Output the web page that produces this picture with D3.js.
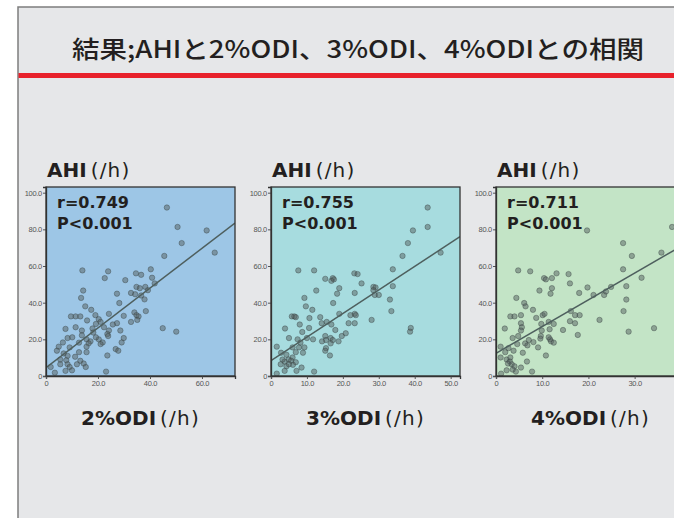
<!DOCTYPE html>
<html>
<head>
<meta charset="utf-8">
<script src="https://cdn.jsdelivr.net/npm/d3@7"></script>
<style>
  html, body { margin: 0; padding: 0; background: #fff; }
</style>
</head>
<body>
<div id="chart"></div>
<script>
// Title and labels
const titleText = "結果;AHIと2%ODI、3%ODI、4%ODIとの相関";
const xLabels = ["2%ODI", "3%ODI", "4%ODI"];
const rLabels = ["r=0.749", "r=0.755", "r=0.711"];
const pLabel = "P<0.001";

// Tick labels
const yTicks = [0, 20, 40, 60, 80, 100];
const xTicks2 = [0, 20, 40, 60];
const xTicks3 = [0, 10, 20, 30, 40, 50];
const xTicks4 = [0, 10, 20, 30, 40];

// Regression lines (intercept, slope)
const fitIntercepts = [4.5, 8.4, 12.4];
const fitSlopes = [1.086, 1.285, 1.458];

// 2%ODI vs AHI
const odi2X = [46.5, 50.6, 61.8, 52.2, 45.5, 64.9, 14.0, 22.6, 23.9, 40.3, 36.6, 34.6, 30.5, 40.8, 41.8, 38.2, 34.8, 36.1, 39.2, 14.3,
  32.7, 27.3, 34.3, 36.6, 13.5, 37.9, 28.2, 15.1, 17.4, 38.4, 34.0, 24.2, 19.0, 29.9, 34.8, 35.6, 9.6, 11.4, 13.2, 20.3,
  21.0, 15.8, 32.7, 35.1, 27.3, 25.7, 19.2, 11.4, 7.5, 17.9, 13.8, 28.6, 24.2, 23.6, 44.9, 50.1, 13.8, 10.1, 8.3, 23.9,
  20.3, 15.6, 17.1, 16.4, 21.8, 29.9, 29.1, 6.5, 15.6, 4.9, 9.1, 26.8, 27.8, 4.2, 12.7, 15.6, 6.8, 8.3, 11.2, 23.6,
  13.2, 14.5, 7.8, 5.5, 8.3, 9.1, 10.0, 7.5, 3.4, 23.1, 11.9, 15.3, 1.8, 5.5, 19.2, 21.0, 12.7, 18.2, 22.3];
const odi2Y = [91.9, 81.3, 79.4, 72.5, 65.5, 67.3, 57.6, 53.4, 57.1, 58.2, 55.2, 56.0, 52.3, 53.6, 50.5, 48.6, 48.6, 47.9, 46.8, 46.6,
  45.3, 44.9, 44.6, 43.9, 42.6, 41.8, 39.8, 38.0, 36.1, 35.4, 34.7, 33.9, 33.2, 32.8, 33.2, 32.5, 32.5, 32.5, 32.5, 31.0,
  29.5, 30.3, 29.5, 30.6, 28.8, 28.1, 28.4, 26.6, 25.7, 25.9, 24.8, 24.8, 24.8, 22.9, 26.1, 24.2, 22.2, 21.1, 20.7, 21.8,
  20.0, 20.0, 18.9, 17.8, 18.3, 20.7, 18.3, 18.3, 16.0, 16.0, 15.6, 14.7, 13.8, 13.8, 13.0, 13.0, 12.3, 11.0, 10.5, 11.2,
  8.3, 6.8, 8.6, 6.4, 6.4, 4.9, 3.1, 2.8, 1.8, 2.4, 6.4, 4.9, 4.9, 9.0, 21.1, 17.4, 18.2, 23.7, 26.6];

// 3%ODI vs AHI
const odi3X = [43.6, 43.6, 39.5, 38.1, 47.2, 36.6, 7.6, 12.0, 33.9, 23.2, 24.1, 17.2, 17.5, 15.1, 16.8, 25.2, 33.9, 19.0, 28.5, 29.1,
  28.5, 12.6, 18.4, 23.3, 28.9, 30.0, 9.3, 33.1, 17.3, 9.7, 11.5, 33.5, 23.3, 19.0, 23.6, 22.1, 5.8, 6.5, 6.9, 13.7,
  10.7, 15.5, 14.1, 23.3, 21.6, 28.0, 8.0, 16.8, 10.6, 3.9, 38.9, 38.7, 17.9, 8.7, 20.8, 19.7, 15.1, 16.6, 5.0, 7.4,
  11.7, 15.3, 14.2, 17.2, 16.6, 8.2, 18.8, 7.8, 1.6, 15.3, 15.1, 6.9, 8.9, 2.8, 4.3, 16.4, 6.0, 4.9, 3.8, 5.6,
  6.9, 2.7, 6.1, 4.3, 8.5, 3.8, 7.1, 12.0, 1.6, 5.0, 3.2, 9.3, 10.0, 6.0];
const odi3Y = [91.9, 81.3, 79.4, 72.5, 67.3, 65.5, 57.6, 57.6, 58.2, 56.0, 55.6, 53.4, 52.7, 53.0, 51.9, 50.5, 49.0, 47.9, 48.6, 48.3,
  46.8, 46.6, 44.9, 45.3, 44.2, 44.2, 42.6, 41.7, 39.8, 38.0, 36.1, 35.4, 33.9, 33.9, 33.2, 33.2, 32.5, 32.5, 32.1, 32.1,
  31.6, 29.5, 28.8, 28.8, 28.8, 30.6, 28.1, 28.1, 26.2, 25.9, 26.2, 24.2, 25.1, 24.0, 23.3, 21.8, 21.8, 20.7, 20.7, 20.0,
  20.0, 19.6, 18.9, 19.6, 17.8, 18.2, 18.9, 15.6, 16.0, 15.2, 13.8, 13.0, 12.7, 12.7, 11.6, 11.2, 10.1, 9.0, 7.9, 8.3,
  7.5, 6.4, 6.1, 5.3, 4.6, 2.8, 2.8, 2.4, 1.3, 6.4, 9.0, 15.6, 20.7, 15.6];

// 4%ODI vs AHI
const odi4X = [19.7, 38.1, 27.5, 35.8, 29.4, 4.8, 7.4, 13.1, 15.7, 10.4, 10.8, 12.1, 27.5, 16.0, 31.5, 24.9, 28.2, 19.8, 12.1, 9.4,
  18.0, 21.1, 23.4, 11.8, 23.8, 28.2, 4.4, 6.1, 6.4, 8.0, 27.6, 16.2, 3.1, 4.0, 5.4, 10.1, 10.5, 18.1, 17.1, 8.7,
  5.4, 11.4, 12.5, 9.8, 16.0, 17.1, 22.4, 5.6, 1.9, 11.6, 14.5, 5.4, 28.7, 34.2, 17.7, 4.8, 9.7, 11.4, 11.7, 11.9,
  12.5, 9.6, 3.6, 7.1, 8.1, 6.3, 9.1, 4.6, 1.0, 2.7, 3.8, 5.8, 10.8, 2.0, 1.0, 2.3, 3.0, 2.6, 3.4, 4.0,
  5.4, 6.7, 2.3, 4.3, 7.8, 1.1, 3.6, 3.1, 6.8, 9.9];
const odi4Y = [79.4, 81.3, 72.5, 67.3, 65.5, 57.6, 57.1, 56.0, 55.6, 53.4, 52.7, 53.4, 58.2, 50.5, 53.6, 48.6, 49.0, 48.3, 47.9, 46.6,
  45.3, 44.2, 44.2, 44.9, 46.1, 41.7, 42.6, 39.8, 38.0, 36.1, 35.4, 35.4, 32.5, 32.5, 33.2, 33.2, 33.9, 33.2, 33.2, 31.7,
  28.8, 29.5, 28.4, 28.4, 29.9, 28.8, 30.6, 26.6, 25.9, 25.5, 25.1, 24.8, 24.2, 26.1, 22.4, 21.8, 21.8, 21.1, 20.0, 18.9,
  18.2, 20.4, 20.7, 19.6, 18.5, 17.8, 15.6, 17.4, 16.0, 15.2, 13.8, 12.7, 11.2, 13.0, 10.1, 9.0, 7.9, 6.8, 6.4, 5.3,
  4.6, 7.9, 3.1, 2.4, 2.4, 1.3, 3.5, 10.1, 16.7, 24.8];

const width = 674;
const height = 518;

const svg = d3.select("#chart")
  .append("svg")
  .attr("width", width)
  .attr("height", height)
  .style("display", "block");

// Slide background
svg.append("rect")
  .attr("x", 18).attr("y", 7)
  .attr("width", 700).attr("height", 560)
  .attr("fill", "#e6e7e9")
  .attr("stroke", "#7d7d7d")
  .attr("stroke-width", 1.5);

// Red rule under the title
svg.append("rect")
  .attr("x", 18.5).attr("y", 73)
  .attr("width", 660).attr("height", 5)
  .attr("fill", "#e8212b");

// Title
svg.append("text")
  .attr("x", 72)
  .attr("y", 58)
  .attr("textLength", 572)
  .attr("lengthAdjust", "spacingAndGlyphs")
  .style("font-family", "'Noto Sans CJK JP', sans-serif")
  .style("font-size", "24px")
  .style("font-weight", 500)
  .style("fill", "#231f20")
  .text(titleText);

const panels = [
  { xs: odi2X, ys: odi2Y, xMax: 72.7, ticks: xTicks2, left: 46, fill: "#9dc6e6" },
  { xs: odi3X, ys: odi3Y, xMax: 52.6, ticks: xTicks3, left: 271, fill: "#a7dcdf" },
  { xs: odi4X, ys: odi4Y, xMax: 40.9, ticks: xTicks4, left: 496, fill: "#c3e4c6" }
];

const plotW = 189;
const plotTop = 187;
const plotBottom = 376;
const plotH = plotBottom - plotTop;
const tickFont = "'Liberation Sans Narrow', 'Liberation Sans', sans-serif";
const labelFont = "'DejaVu Sans', sans-serif";

const fmt = d => d === 0 ? "0" : d.toFixed(1);

panels.forEach((p, i) => {
  const g = svg.append("g")
    .attr("transform", `translate(${p.left}, ${plotTop})`);

  const x = d3.scaleLinear().domain([0, p.xMax]).range([0, plotW]);
  const y = d3.scaleLinear().domain([0, 103.1]).range([plotH, 0]);

  const clipId = `clip-${i}`;
  g.append("clipPath").attr("id", clipId)
    .append("rect").attr("width", plotW).attr("height", plotH);

  // Plot background
  g.append("rect")
    .attr("width", plotW)
    .attr("height", plotH)
    .attr("fill", p.fill);

  const inner = g.append("g").attr("clip-path", `url(#${clipId})`);

  // Points
  const pts = p.xs.map((v, k) => ({ x: v, y: p.ys[k] }));
  inner.selectAll(".dot")
    .data(pts)
    .enter()
    .append("circle")
    .attr("class", "dot")
    .attr("cx", d => x(d.x))
    .attr("cy", d => y(d.y))
    .attr("r", 2.7)
    .attr("fill", "rgba(85,95,95,0.5)")
    .attr("stroke", "rgba(50,60,60,0.55)")
    .attr("stroke-width", 0.7);

  // Fit line
  const a = fitIntercepts[i], b = fitSlopes[i];
  inner.append("line")
    .attr("x1", x(0)).attr("y1", y(a))
    .attr("x2", x(p.xMax)).attr("y2", y(a + b * p.xMax))
    .attr("stroke", "#4e5f5e")
    .attr("stroke-width", 1.5);

  // Axes
  const yAxis = g.append("g")
    .call(d3.axisLeft(y).tickValues(yTicks).tickFormat(fmt).tickSize(3).tickPadding(1));
  const xAxis = g.append("g")
    .attr("transform", `translate(0, ${plotH})`)
    .call(d3.axisBottom(x).tickValues(p.ticks).tickFormat(fmt).tickSize(3).tickPadding(2));

  [yAxis, xAxis].forEach(ax => {
    ax.select(".domain").attr("stroke", "#333").attr("stroke-width", 1.3);
    ax.selectAll(".tick line").attr("stroke", "#555");
    ax.selectAll("text")
      .style("font-family", tickFont)
      .style("font-size", "7.5px")
      .style("letter-spacing", "-0.3px")
      .style("fill", "#555");
  });

  // Frame
  g.append("rect")
    .attr("width", plotW)
    .attr("height", plotH)
    .attr("fill", "none")
    .attr("stroke", "#333")
    .attr("stroke-width", 1.3);

  // Y title
  const yt = g.append("text")
    .attr("x", 1)
    .attr("y", -10)
    .style("font-family", labelFont)
    .style("font-size", "20px")
    .style("fill", "#231f20");
  yt.append("tspan").style("font-weight", 700).text("AHI");
  yt.append("tspan").attr("dx", 4).style("letter-spacing", "1.2px").text("(/h)");

  // r and P
  g.append("text")
    .attr("x", 11)
    .attr("y", 21)
    .style("font-family", labelFont)
    .style("font-size", "16px")
    .style("font-weight", 700)
    .style("fill", "#231f20")
    .text(rLabels[i]);
  g.append("text")
    .attr("x", 11)
    .attr("y", 42)
    .style("font-family", labelFont)
    .style("font-size", "16px")
    .style("font-weight", 700)
    .style("fill", "#231f20")
    .text(pLabel);

  // X title
  const xt = g.append("text")
    .attr("x", plotW / 2)
    .attr("y", plotH + 49)
    .attr("text-anchor", "middle")
    .style("font-family", labelFont)
    .style("font-size", "20px")
    .style("fill", "#231f20");
  xt.append("tspan").style("font-weight", 700).text(xLabels[i]);
  xt.append("tspan").attr("dx", 4).style("letter-spacing", "1.2px").text("(/h)");
});
</script>
</body>
</html>
